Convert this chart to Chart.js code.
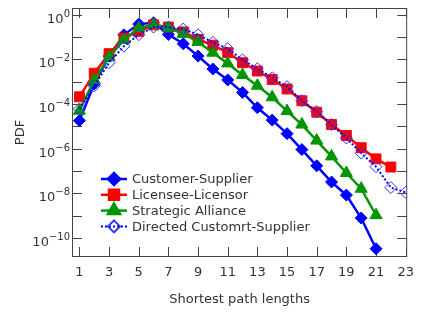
<!DOCTYPE html>
<html>
<head>
<meta charset="utf-8">
<script src="https://cdn.jsdelivr.net/npm/chart.js@4.4.1/dist/chart.umd.min.js"></script>
<style>
  body { margin: 0; background: #fff; }
  canvas { display: block; }
</style>
</head>
<body>
<canvas id="pdf" width="422" height="313"></canvas>
<script>
// shortest path lengths (x)
const pathLengths = [1, 2, 3, 4, 5, 6, 7, 8, 9, 10, 11, 12, 13, 14, 15, 16, 17, 18, 19, 20, 21, 22, 23];

// PDF values
const customerSupplier = [1.8e-5, 7.9e-4, 1.4e-2, 0.126, 0.38, 0.44, 0.13, 0.05, 1.4e-2, 3.7e-3,
    1.2e-3, 3.3e-4, 6.8e-5, 1.9e-5, 4.7e-6, 9.1e-7, 1.7e-7, 3.2e-8, 8.3e-9, 7.8e-10, 3.3e-11];
const licenseeLicensor = [2.1e-4, 2.4e-3, 1.8e-2, 8.9e-2, 0.18, 0.35, 0.28, 0.17, 7.8e-2, 4.3e-2,
    2.0e-2, 7.1e-3, 3.0e-3, 1.26e-3, 4.7e-4, 1.4e-4, 4.3e-5, 1.2e-5, 3.9e-6, 1.1e-6, 3.5e-7, 1.5e-7];
const strategicAlliance = [5.0e-5, 1.2e-3, 1.26e-2, 7.4e-2, 0.25, 0.36, 0.25, 0.14, 6.0e-2, 2.0e-2,
    6.6e-3, 2.0e-3, 6.6e-4, 2.0e-4, 4.8e-5, 1.2e-5, 2.3e-6, 4.5e-7, 8.1e-8, 1.6e-8, 1.05e-9];
const directedCustomerSupplier = [6.0e-5, 6.5e-4, 7.1e-3, 3.9e-2, 0.126, 0.28, 0.28, 0.23, 0.126, 5.8e-2,
    3.0e-2, 9.5e-3, 3.8e-3, 1.5e-3, 6.0e-4, 1.4e-4, 4.6e-5, 1.2e-5, 3.0e-6, 6.3e-7, 1.55e-7, 1.8e-8, 1.1e-8];

const seriesNames = ["Customer-Supplier", "Licensee-Licensor", "Strategic Alliance", "Directed Customrt-Supplier"];

// axis ticks
const xTicks = [1, 3, 5, 7, 9, 11, 13, 15, 17, 19, 21, 23];
const yDecades = [1e-10, 1e-9, 1e-8, 1e-7, 1e-6, 1e-5, 1e-4, 1e-3, 1e-2, 1e-1, 1];
const yLabelled = [1e-10, 1e-8, 1e-6, 1e-4, 1e-2, 1];

const FONT = "'DejaVu Sans', sans-serif";
const TEXT = '#333';

function toPoints(values) {
    return values.map((v, i) => ({x: pathLengths[i], y: v}));
}

// ticks pointing inward on all four sides, frame, and 10^n labels
const frameTicks = {
    id: 'frameTicks',
    beforeDatasetsDraw(chart) {
        const {ctx, chartArea: a, scales: {x, y}} = chart;
        ctx.save();
        ctx.strokeStyle = '#444';
        ctx.lineWidth = 1;
        ctx.beginPath();
        for (const v of xTicks) {
            const px = Math.round(x.getPixelForValue(v)) + 0.5;
            ctx.moveTo(px, a.bottom); ctx.lineTo(px, a.bottom - 10);
            ctx.moveTo(px, a.top); ctx.lineTo(px, a.top + 10);
        }
        for (const v of yDecades) {
            const py = Math.round(y.getPixelForValue(v)) + 0.5;
            ctx.moveTo(a.left, py); ctx.lineTo(a.left + 10, py);
            ctx.moveTo(a.right, py); ctx.lineTo(a.right - 10, py);
        }
        ctx.stroke();
        ctx.strokeRect(a.left + 0.5, a.top + 0.5, a.width - 1, a.height - 1);

        // y labels: "10" with raised exponent
        ctx.fillStyle = TEXT;
        ctx.textBaseline = 'alphabetic';
        ctx.textAlign = 'right';
        for (const v of yLabelled) {
            const py = y.getPixelForValue(v);
            const exp = String(Math.round(Math.log10(v))).replace('-', '\u2212');
            ctx.font = '10px ' + FONT;
            const ew = ctx.measureText(exp).width;
            const right = a.left - 2;
            ctx.fillText(exp, right, py + 2);
            ctx.font = '13px ' + FONT;
            ctx.fillText('10', right - ew, py + 8);
        }
        ctx.restore();
    }
};

// legend drawn inside the plot, lower left
const insideLegend = {
    id: 'insideLegend',
    afterDraw(chart) {
        const {ctx, chartArea: a} = chart;
        ctx.save();
        ctx.font = '13px ' + FONT;
        ctx.textBaseline = 'middle';
        chart.data.datasets.forEach((ds, i) => {
            const y0 = a.top + 171 + i * 15.8;
            const x0 = a.left + 29;
            ctx.strokeStyle = ds.borderColor;
            ctx.lineWidth = ds.borderWidth;
            ctx.setLineDash(ds.borderDash || []);
            ctx.beginPath();
            ctx.moveTo(x0, y0); ctx.lineTo(x0 + 26, y0);
            ctx.stroke();
            ctx.setLineDash([]);
            ctx.fillStyle = ds.pointBackgroundColor;
            ctx.strokeStyle = ds.pointBorderColor;
            Chart.helpers.drawPoint(ctx, {
                pointStyle: ds.pointStyle,
                radius: ds.pointRadius,
                borderWidth: ds.pointBorderWidth,
                rotation: 0
            }, x0 + 13, y0);
            ctx.fillStyle = TEXT;
            ctx.fillText(seriesNames[i], x0 + 31, y0 + 1);
        });
        ctx.restore();
    }
};

const datasets = [
    {
        label: seriesNames[0], data: toPoints(customerSupplier), order: 3,
        borderColor: '#0000ff', borderWidth: 2.5,
        pointStyle: 'rectRot', pointRadius: 6, pointBorderWidth: 1,
        pointBackgroundColor: '#0000ff', pointBorderColor: '#0000ff'
    },
    {
        label: seriesNames[1], data: toPoints(licenseeLicensor), order: 2,
        borderColor: '#ff0000', borderWidth: 2.5,
        pointStyle: 'rect', pointRadius: 7, pointBorderWidth: 1,
        pointBackgroundColor: '#ff0000', pointBorderColor: '#ff0000'
    },
    {
        label: seriesNames[2], data: toPoints(strategicAlliance), order: 1,
        borderColor: 'rgb(0,150,0)', borderWidth: 2.5,
        pointStyle: 'triangle', pointRadius: 7, pointBorderWidth: 1,
        pointBackgroundColor: 'rgb(0,150,0)', pointBorderColor: 'rgb(0,150,0)'
    },
    {
        label: seriesNames[3], data: toPoints(directedCustomerSupplier), order: 0,
        borderColor: '#0000ff', borderWidth: 2, borderDash: [2, 2],
        pointStyle: 'rectRot', pointRadius: 6, pointBorderWidth: 1,
        pointBackgroundColor: 'rgba(255,255,255,0)', pointBorderColor: '#3333ff'
    }
];

new Chart(document.getElementById('pdf'), {
    type: 'line',
    data: {datasets: datasets},
    options: {
        responsive: false,
        animation: false,
        devicePixelRatio: 1,
        layout: {padding: {top: 8, right: 6, left: 0, bottom: 0}},
        plugins: {legend: {display: false}, tooltip: {enabled: false}},
        elements: {line: {tension: 0}},
        scales: {
            x: {
                type: 'linear', min: 0.5, max: 23.1,
                grid: {display: false, drawTicks: false},
                border: {display: false},
                afterBuildTicks: s => { s.ticks = xTicks.map(v => ({value: v})); },
                afterFit: s => { s.height = 56; },
                ticks: {font: {family: FONT, size: 13}, color: TEXT, padding: 8, maxRotation: 0},
                title: {display: true, text: 'Shortest path lengths', font: {family: FONT, size: 13},
                    color: TEXT, padding: {top: 0, bottom: 6}}
            },
            y: {
                type: 'logarithmic', min: 1.4e-11, max: 2,
                grid: {display: false, drawTicks: false},
                border: {display: false},
                afterBuildTicks: s => { s.ticks = yLabelled.map(v => ({value: v})); },
                afterFit: s => { s.width = 72; },
                ticks: {display: false},
                title: {display: true, text: 'PDF', font: {family: FONT, size: 13},
                    color: TEXT, padding: {top: 13, bottom: 0}}
            }
        }
    },
    plugins: [frameTicks, insideLegend]
});
</script>
</body>
</html>
